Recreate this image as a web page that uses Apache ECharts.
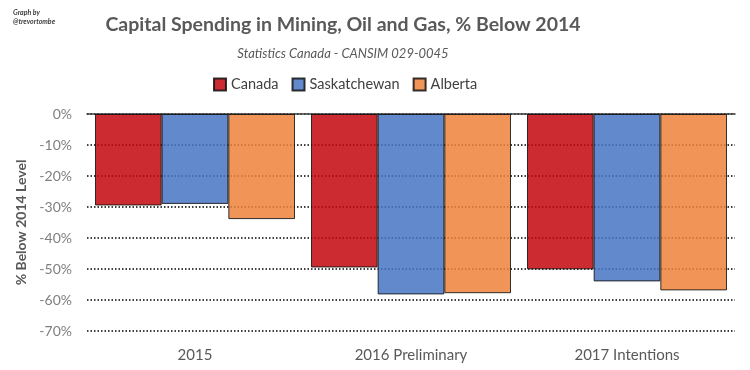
<!DOCTYPE html>
<html><head><meta charset="utf-8">
<script src="https://cdn.jsdelivr.net/npm/echarts@6/dist/echarts.min.js"></script>
<style>html,body{margin:0;padding:0;background:#fff}#c{width:750px;height:370px}</style>
</head><body><div id="c"></div>
<script>
var categories = ['2015', '2016 Preliminary', '2017 Intentions'];
var canada = [-29.5, -49.5, -50.1];
var saskatchewan = [-29.0, -58.2, -54.0];
var alberta = [-33.9, -57.8, -56.9];
var seriesNames = ['Canada', 'Saskatchewan', 'Alberta'];
// base colours; drawn at 0.85 opacity so the dotted gridlines show through like the original
var colors = ['#c3070d', '#4874c4', '#ed823a'];

var font = 'Lato, "Open Sans", sans-serif';
var chart = echarts.init(document.getElementById('c'));
var data = [canada, saskatchewan, alberta];
var series = seriesNames.map(function (n, i) {
  return {
    name: n, type: 'bar', data: data[i], xAxisIndex: 0,
    barGap: '0%', barCategoryGap: '7.4%',
    itemStyle: {color: colors[i], borderColor: '#111', borderWidth: 1, opacity: 0.85}
  };
});
chart.setOption({
  animation: false,
  textStyle: {fontFamily: font},
  title: [
    {text: 'Capital Spending in Mining, Oil and Gas, % Below 2014', left: 338, top: 10, textAlign: 'center',
     textStyle: {fontFamily: font, fontSize: 19.5, fontWeight: 'bold', color: '#595959'}},
    {text: 'Statistics Canada - CANSIM 029-0045', left: 338, top: 42, textAlign: 'center',
     textStyle: {fontFamily: font, fontSize: 13, fontStyle: 'italic', fontWeight: 'normal', color: '#595959'}},
    {text: 'Graph by\n@trevortombe', left: 8, top: 3,
     textStyle: {fontFamily: font, fontSize: 7, fontStyle: 'italic', fontWeight: 'bold', color: '#404040', lineHeight: 9}}
  ],
  legend: {
    data: seriesNames, left: 208, top: 72, itemWidth: 12, itemHeight: 12, itemGap: 13,
    textStyle: {fontFamily: font, fontSize: 14.5, color: '#404040'},
    icon: 'rect'
  },
  grid: {left: 87, right: 15, top: 114, bottom: 39},
  xAxis: [
    {type: 'category', data: categories, position: 'bottom',
     axisLine: {show: false}, axisTick: {show: false},
     axisLabel: {fontFamily: font, fontSize: 15, color: '#595959', margin: 17}},
    {type: 'category', data: categories, position: 'top',
     axisLine: {show: true, lineStyle: {color: '#404040', width: 1.5}}, axisTick: {show: false},
     axisLabel: {show: false}}
  ],
  yAxis: {
    type: 'value', min: -70, max: 0, interval: 10,
    name: '% Below 2014 Level', nameLocation: 'middle', nameGap: 47, nameRotate: 90,
    nameTextStyle: {fontFamily: font, fontSize: 14, fontWeight: 'bold', color: '#595959'},
    axisLine: {show: false}, axisTick: {show: false},
    axisLabel: {fontFamily: font, fontSize: 14, color: '#7f7f7f', margin: 15, formatter: '{value}%'},
    splitLine: {show: true, lineStyle: {type: [1.5, 2], width: 1.5, color: '#000'}}
  },
  series: series
});
</script></body></html>
